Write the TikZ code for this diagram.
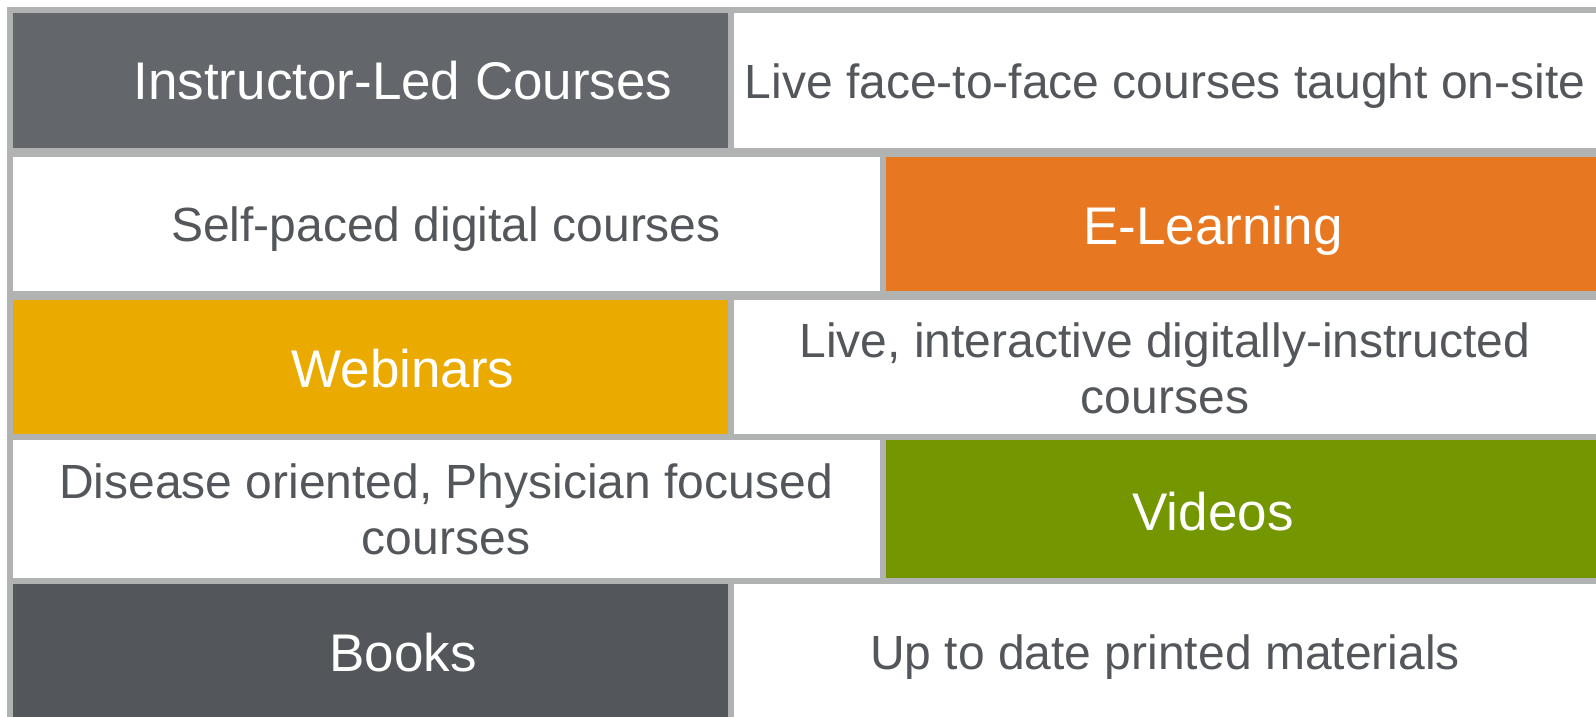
\documentclass[tikz,border=0pt]{standalone}
\usepackage{fontspec}
\setmainfont{Liberation Sans}
\usepackage{tikz}
\definecolor{rim}{HTML}{B1B3B3}
\definecolor{slate}{HTML}{63666A}
\definecolor{ink}{HTML}{53565A}
\definecolor{carrot}{HTML}{E87722}
\definecolor{amber}{HTML}{EAAA00}
\definecolor{leaf}{HTML}{749600}
\tikzset{
  cell/.style={anchor=base, inner sep=0pt, text=white,
    font=\fontsize{26.5}{28}\selectfont},
  note/.style={anchor=base, inner sep=0pt, text=ink, align=center,
    font=\fontsize{24}{28}\selectfont}
}

\begin{document}
\begin{tikzpicture}[x=0.5pt, y=-0.5pt]
    \useasboundingbox (0,0) rectangle (1596,717);
    \fill[white] (0,0) rectangle (1596,717);
    \fill[rim] (7,7) rectangle (1596,717);
    \fill[slate] (13,13) rectangle (728,148);
    \fill[white] (734,13) rectangle (1596,148);
    \fill[white] (13,157) rectangle (880,291);
    \fill[carrot] (886,157) rectangle (1596,291);
    \fill[amber] (13,300) rectangle (728,434);
    \fill[white] (734,300) rectangle (1596,434);
    \fill[white] (13,440) rectangle (880,578);
    \fill[leaf] (886,440) rectangle (1596,578);
    \fill[ink] (13,584) rectangle (728,717);
    \fill[white] (734,584) rectangle (1596,717);
    \node(il)[cell] at (403,100) {Instructor-Led Courses};
    \node(ilnote)[note] at (1165,99) {Live face-to-face courses taught on-site};
    \node(spnote)[note] at (446,242) {Self-paced digital courses};
    \node(el)[cell] at (1213,244) {E-Learning};
    \node(wb)[cell] at (403,387) {Webinars};
    \node(wbnote)[note] at (1165,413) {Live, interactive digitally-instructed\\courses};
    \node(dsnote)[note] at (446,554) {Disease oriented, Physician focused\\courses};
    \node(vd)[cell] at (1213,530) {Videos};
    \node(bk)[cell] at (403,671) {Books};
    \node(bknote)[note] at (1165,669) {Up to date printed materials};
\end{tikzpicture}
\end{document}
